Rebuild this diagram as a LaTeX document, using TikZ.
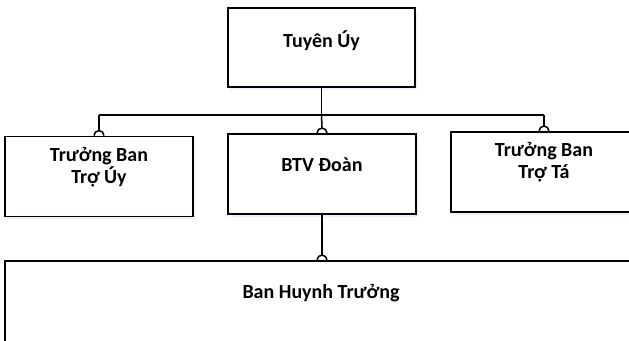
\documentclass[tikz,border=0pt]{standalone}
\usepackage{fontspec}
\setmainfont{Carlito}
\usetikzlibrary{shadows}
\begin{document}
\begin{tikzpicture}[x=1pt,y=-1pt,
  box/.style={draw=black, line width=1.8pt, fill=white, rectangle, inner sep=0pt,
    drop shadow={shadow xshift=1.5pt, shadow yshift=-2.5pt, fill=blue!25, opacity=0.25}},
  txt/.style={font=\bfseries\fontsize{20}{21.7}\selectfont, align=center, inner sep=0pt, anchor=base},
  conn/.style={draw=black, line width=1.5pt}]
\useasboundingbox (0,0) rectangle (629,340);
\clip (0,0) rectangle (629,340);
% boxes
\node[box, minimum width=187pt, minimum height=79pt] (tuyen) at (321.5,47.5) {};
\node[box, minimum width=188pt, minimum height=80pt] (troUy) at (99,176.5) {};
\node[box, minimum width=188pt, minimum height=80pt] (btv) at (322,174) {};
\node[box, minimum width=186pt, minimum height=80pt] (troTa) at (544,172) {};
\node[box, minimum width=634pt, minimum height=120pt] (bht) at (322,321) {};
% texts
\node[txt] (tTuyen) at (321.5,47) {Tuyên Úy};
\node[txt] (tTroUy) at (99,183.3) {Trưởng Ban\\Trợ Úy};
\node[txt] (tBtv) at (322,171) {BTV Đoàn};
\node[txt] (tTroTa) at (544,178.5) {Trưởng Ban\\Trợ Tá};
\node[txt] (tBht) at (321,298) {Ban Huynh Trưởng};
% bus
\coordinate (busM) at (tuyen.south |- 0,115);
\coordinate (busL) at (troUy.north |- busM);
\coordinate (busR) at (troTa.north |- busM);
\draw[conn] (tuyen.south) -- (busM);
\draw[conn] (busL) -- (busR);
\draw[conn] (busL) -- ([yshift=5pt]troUy.north);
\draw[conn] (busM) -- ([yshift=5pt]btv.north);
\draw[conn] (busR) -- ([yshift=5pt]troTa.north);
\foreach \b in {troUy,btv,troTa,bht}{
  \draw[conn] ([shift={(-5,0)}]\b.north) arc (180:360:5);
}
\draw[conn] (btv.south) -- ([yshift=5pt]btv.south |- bht.north);
\end{tikzpicture}
\end{document}
